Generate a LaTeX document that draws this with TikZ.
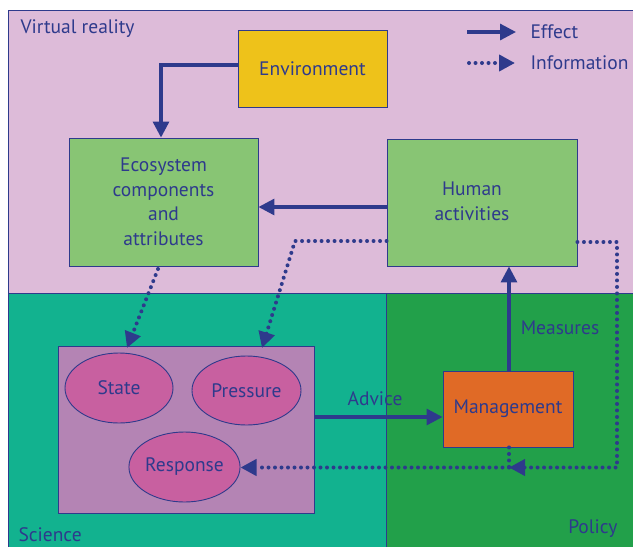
\documentclass[tikz,border=0pt]{standalone}
\usepackage{fontspec}
\setmainfont{PT Sans}
\usetikzlibrary{arrows.meta,shapes.geometric}
\definecolor{vr}{HTML}{DDBBD9}
\definecolor{sci}{HTML}{12B28F}
\definecolor{pol}{HTML}{22A04A}
\definecolor{envc}{HTML}{EEC21A}
\definecolor{grn}{HTML}{88C574}
\definecolor{pbox}{HTML}{B484B4}
\definecolor{ell}{HTML}{C860A0}
\definecolor{mgmt}{HTML}{E06A26}
\definecolor{ink}{HTML}{2E3A8C}
\tikzset{
  txt/.style={text=ink,font=\fontsize{19.5}{24.5}\selectfont},
  boxn/.style={draw=ink,line width=0.9pt,txt,align=center,inner sep=0pt},
  elln/.style={ellipse,draw=ink,line width=0.9pt,fill=ell,txt,inner sep=0pt},
  tip/.style={-{Triangle[width=16pt,length=16pt]}},
  effect/.style={draw=ink,line width=3.2pt,tip},
  info/.style={draw=ink,line width=4pt,line cap=round,dash pattern=on 0pt off 6.5pt,tip},
  infoline/.style={draw=ink,line width=4pt,line cap=round,dash pattern=on 0pt off 6.5pt},
}
\begin{document}
\begin{tikzpicture}[x=1pt,y=-1pt]
\useasboundingbox (0,0) rectangle (633,547);
% regions
\fill[vr] (8,10) rectangle (633,293);
\fill[sci] (8,293) rectangle (386,547);
\fill[pol] (386,293) rectangle (633,547);
\draw[ink,line width=0.9pt] (8,547) -- (8,10) -- (633,10);
\draw[ink,line width=0.9pt] (8,293) -- (633,293);
\draw[ink,line width=0.9pt] (386,293) -- (386,547);
\node[txt,anchor=west] (lvr) at (17,29) {Virtual reality};
\node[txt,anchor=west] (lsci) at (15,535) {Science};
\node[txt,anchor=east] (lpol) at (621,529) {Policy};
% boxes
\node[boxn,fill=envc,minimum width=149pt,minimum height=77pt] (env) at (312.5,68.5) {Environment};
\node[boxn,fill=grn,minimum width=189pt,minimum height=128pt] (eco) at (163.5,202) {Ecosystem\\components\\and\\attributes};
\node[boxn,fill=grn,minimum width=190pt,minimum height=127pt] (hum) at (482,202.5) {};
\node[txt,align=center] (humt) at (hum.center) [yshift=1pt,xshift=-10pt] {Human\\activities};
\node[boxn,fill=pbox,minimum width=256pt,minimum height=167pt] (sci) at (186,429.5) {};
\node[elln,minimum width=108pt,minimum height=70pt] (state) at (119,388) {State};
\node[elln,minimum width=109pt,minimum height=69pt] (press) at (246.5,390.5) {Pressure};
\node[elln,minimum width=109pt,minimum height=70pt] (resp) at (184.5,467) {Response};
\node[boxn,fill=mgmt,minimum width=130pt,minimum height=76pt] (mg) at (508,409) {Management};
% connectors
\draw[effect] (env.west |- 0,65) -| (161,0 |- eco.north);
\draw[effect] (hum.west |- 0,207) -- (eco.east |- 0,207);
\draw[effect] (sci.east |- 0,417) -- (mg.west |- 0,417);
\node[txt] (ladv) at (375,399) {Advice};
\draw[effect] (509,0 |- mg.north) -- (509,0 |- hum.south);
\node[txt] (lmeas) at (560,328) {Measures};
\coordinate (c1) at (158,269);
\coordinate (c1b) at (127,348);
\draw[info] (c1) -- (c1b);
\coordinate (c2) at (295,241);
\draw[info] (hum.west |- c2) -- (c2) -- (262,348);
\coordinate (c3) at (617,242);
\coordinate (c4) at (617,467.5);
\coordinate (j) at (509,467.5);
\draw[info] (hum.east |- c3) -- (c3) -- (c4) -- (j);
\draw[infoline] (509,0 |- mg.south) -- (j);
\draw[info] (j) -- (resp.east |- j);
% legend
\coordinate (le1) at (467,32);
\coordinate (le2) at (516,32);
\draw[effect] (le1) -- (le2);
\node[txt,anchor=west] (leff) at (527,32) {Effect};
\coordinate (li1) at (469,63);
\coordinate (li2) at (515,63);
\draw[info] (li1) -- (li2);
\node[txt,anchor=west] (linf) at (527,63) {Information};
\end{tikzpicture}
\end{document}
